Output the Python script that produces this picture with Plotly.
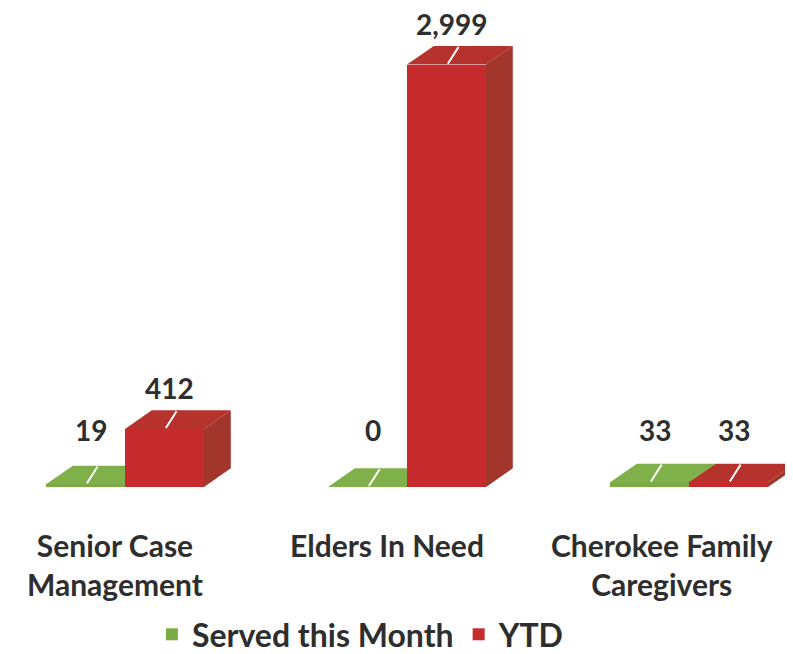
import plotly.graph_objects as go

# ---------------- data ----------------
categories = ["Senior Case<br>Management", "Elders In Need", "Cherokee Family<br>Caregivers"]
served_this_month = [19, 0, 33]
ytd = [412, 2999, 33]
served_labels = ["19", "0", "33"]
ytd_labels = ["412", "2,999", "33"]
series_names = ["Served this Month", "YTD"]

# ---------------- style ----------------
W, H = 793, 654
M_T, M_B = 10, 167
PLOT_H = H - M_T - M_B
YMAX = 3330
X_RANGE = [-0.415, 2.397]
PX_PER_UNIT = W / (X_RANGE[1] - X_RANGE[0])
BAR_W = 0.28
DX = 0.095           # depth offset in x (category units)
DEPTH_PX = 19        # depth offset in pixels (vertical)
DY = DEPTH_PX * YMAX / PLOT_H
MIN_LABEL_PX = 36
MIN_LABEL = MIN_LABEL_PX * YMAX / PLOT_H
CAT_LABEL_SHIFT_PX = [-10, -20, -27]   # perspective shift of category labels

FONT = "Lato"
TXT = "#2e2e2e"
GREEN_FRONT, GREEN_TOP, GREEN_SIDE = "#7aab45", "#80b04a", "#6c9a3c"
RED_FRONT, RED_TOP, RED_SIDE = "#c62a2c", "#b5322d", "#a2352c"

fig = go.Figure()
shapes = []
annotations = []

series = [
    (series_names[0], served_this_month, served_labels, -0.5, GREEN_FRONT, GREEN_TOP, GREEN_SIDE),
    (series_names[1], ytd, ytd_labels, 0.5, RED_FRONT, RED_TOP, RED_SIDE),
]

for name, vals, labels, off, cf, ct, cs in series:
    xs = [i + off * BAR_W for i in range(len(vals))]
    fig.add_trace(go.Bar(
        x=xs, y=vals, width=BAR_W, name=name,
        marker=dict(color=cf, line=dict(width=0)),
        hoverinfo="skip",
    ))
    for xc, v, lab in zip(xs, vals, labels):
        x0, x1 = xc - BAR_W / 2, xc + BAR_W / 2
        # side face
        shapes.append(dict(
            type="path", xref="x", yref="y", layer="below",
            path=f"M {x1},0 L {x1},{v} L {x1+DX},{v+DY} L {x1+DX},{DY} Z",
            fillcolor=cs, line=dict(width=0),
        ))
        # top face
        shapes.append(dict(
            type="path", xref="x", yref="y", layer="below",
            path=f"M {x0},{v} L {x1},{v} L {x1+DX},{v+DY} L {x0+DX},{v+DY} Z",
            fillcolor=ct, line=dict(width=0),
        ))
        # white marker on top face
        shapes.append(dict(
            type="line", xref="x", yref="y", layer="below",
            x0=xc + DX * 0.05, y0=v + DY * 0.05,
            x1=xc + DX * 0.45, y1=v + DY * 0.95,
            line=dict(color="white", width=2),
        ))
        annotations.append(dict(
            x=xc + DX * 0.2, y=max(v + DY, MIN_LABEL), xref="x", yref="y",
            text=lab, showarrow=False, yanchor="bottom", yshift=3,
            font=dict(family=FONT, size=28, color=TXT, weight="bold"),
        ))

for i, cat in enumerate(categories):
    annotations.append(dict(
        x=i + CAT_LABEL_SHIFT_PX[i] / PX_PER_UNIT, y=-0.082, xref="x", yref="paper",
        text=cat, showarrow=False, yanchor="top", align="center",
        font=dict(family=FONT, size=30, color=TXT, weight="bold"),
    ))

fig.update_layout(
    width=W, height=H,
    margin=dict(l=0, r=0, t=M_T, b=M_B),
    paper_bgcolor="white", plot_bgcolor="white",
    barmode="overlay", bargap=0,
    xaxis=dict(range=X_RANGE, visible=False, fixedrange=True),
    yaxis=dict(range=[0, YMAX], visible=False, fixedrange=True),
    shapes=shapes,
    annotations=annotations,
    showlegend=True,
    legend=dict(
        orientation="h", x=0.445, xanchor="center", y=-0.256, yanchor="top",
        font=dict(family=FONT, size=32, color=TXT, weight="bold"),
        itemwidth=30, traceorder="normal",
    ),
)

fig.write_html("out.html")
